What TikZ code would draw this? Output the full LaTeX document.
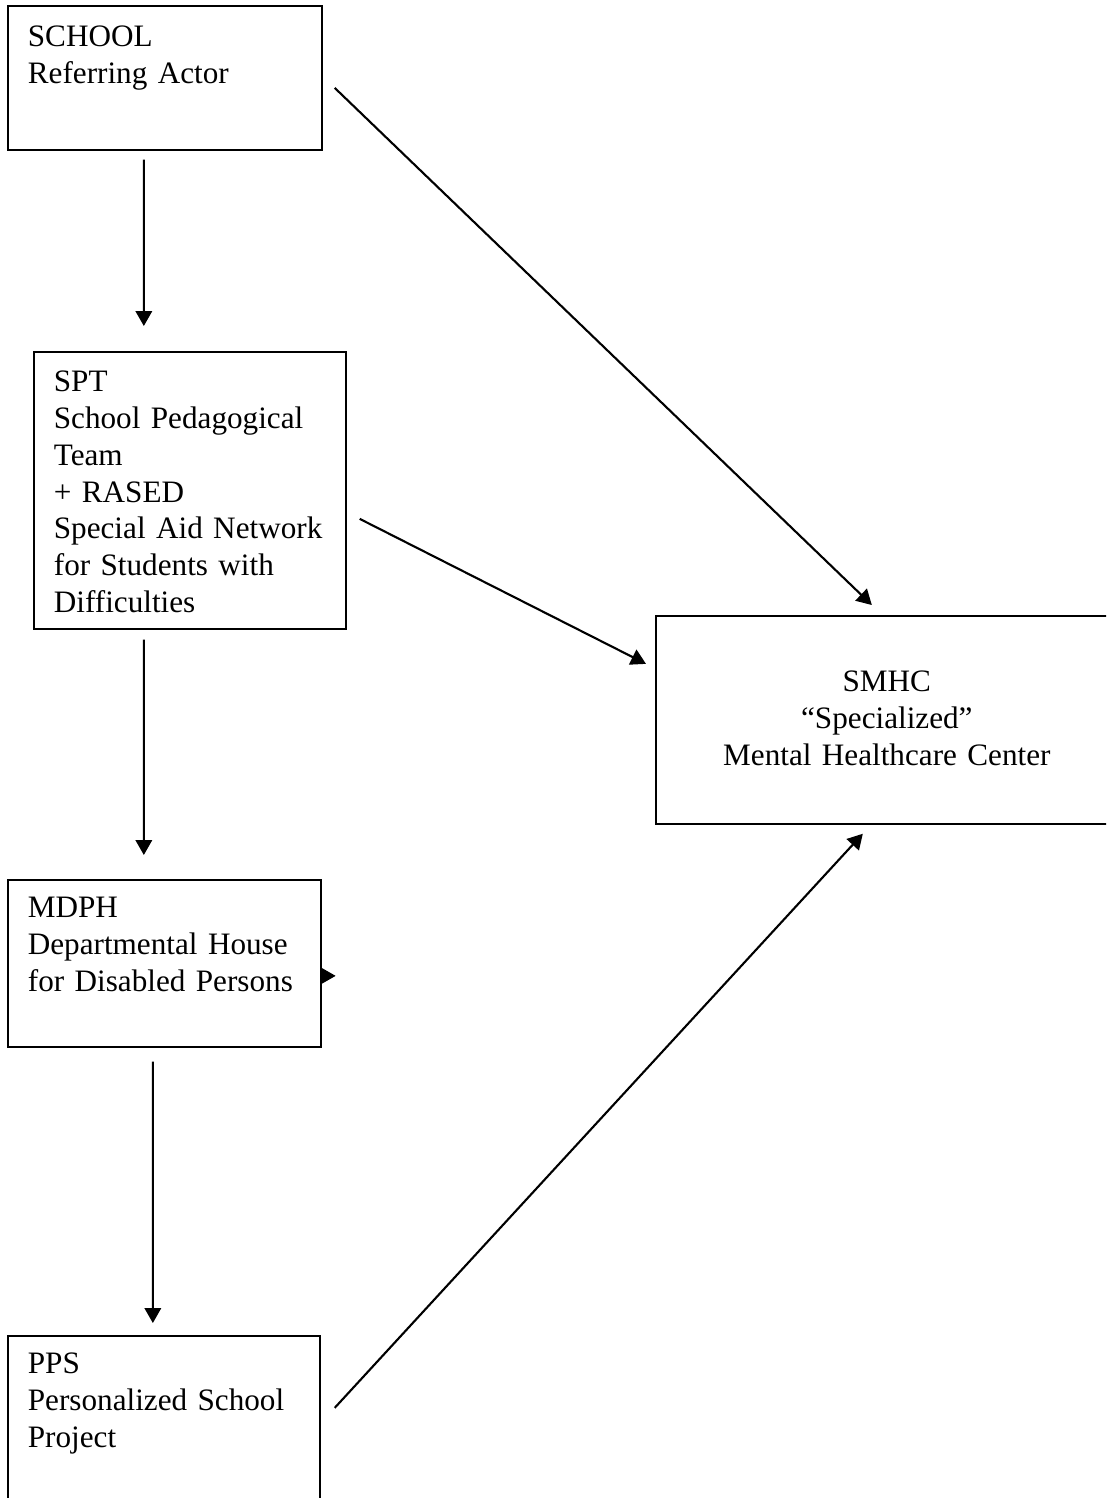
\documentclass[tikz,border=0pt]{standalone}
\usepackage{fontspec}
\setmainfont{Liberation Serif}
\usetikzlibrary{arrows.meta}

\begin{document}
\begin{tikzpicture}[x=0.02cm, y=-0.02cm,
  actor/.style={draw, line width=1pt, anchor=north west, align=left, inner xsep=0.4cm, inner ysep=0pt, font=\fontsize{17.75}{20.9}\selectfont, execute at begin node={\hyphenpenalty=10000\relax}},
  flow/.style={-{Triangle[length=0.3cm,width=0.33cm]}, line width=1.2pt}]

\clip (0,0) rectangle (1106,1498);

\node[actor, name=school, text width=5.48cm, text height=0.82cm, text depth=2.06cm] at (7,5) {SCHOOL\\Referring~Actor};
\node[actor, name=spt, text width=5.44cm, text height=0.8cm, text depth=4.74cm] at (33,351) {SPT\\School~Pedagogical\\Team\\+~RASED\\Special~Aid~Network\\for~Students~with\\Difficulties};
\node[actor, name=mdph, text width=5.46cm, text height=0.76cm, text depth=2.58cm] at (7,879) {MDPH\\Departmental~House\\for~Disabled~Persons};
\node[actor, name=pps, text width=5.44cm, text height=0.76cm, text depth=2.94cm] at (7,1335) {PPS\\Personalized~School\\Project};
\node[actor, name=smhc, align=center, inner xsep=0pt, text width=9.24cm, text height=1.52cm, text depth=2.64cm] at (655,615) {SMHC\\“Specialized”\\Mental Healthcare Center};

\draw[flow] ([shift={(-21,9)}]school.south) -- ([shift={(-46,-25)}]spt.north);
\draw[flow] ([shift={(12,10)}]school.east) -- ([shift={(-15,-10)}]smhc.north);
\draw[flow] ([shift={(13,28.5)}]spt.east) -- ([shift={(-9,-56)}]smhc.west);
\draw[flow] ([shift={(-46,10)}]spt.south) -- ([shift={(-20.5,-24)}]mdph.north);
\draw[flow] ([shift={(0,12.5)}]mdph.east) -- ([shift={(14,12.5)}]mdph.east);
\draw[flow] ([shift={(-11.5,14)}]mdph.south) -- ([shift={(-11,-12)}]pps.north);
\draw[flow] ([shift={(14,-20.5)}]pps.east) -- ([shift={(-24,9)}]smhc.south);
\end{tikzpicture}
\end{document}
